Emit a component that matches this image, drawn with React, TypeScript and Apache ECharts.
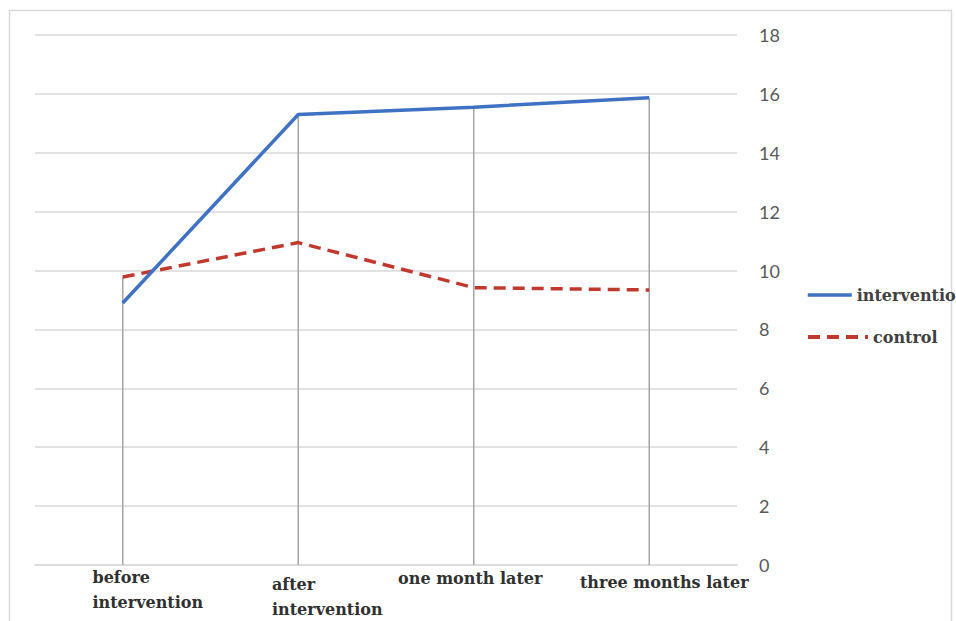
import React, { useEffect, useRef } from "react";
import * as echarts from "echarts";

const categories = ["before\nintervention", "after\nintervention", "one month later", "three months later"];
const intervention = [8.9, 15.3, 15.55, 15.87];
const control = [9.78, 10.95, 9.42, 9.34];
const yTicks = { min: 0, max: 18, interval: 2 };

const labelPad = [
  [0, 0, 0, 50],
  [7, 0, 0, 58],
  [1, 7, 0, 0],
  [5, 0, 0, 30],
];

export default function App() {
  const ref = useRef<HTMLDivElement>(null);
  useEffect(() => {
    document.body.style.margin = "0";
    const chart = echarts.init(ref.current!, null, { renderer: "svg" });
    const high = intervention.map((v, i) => Math.max(v, control[i]));
    const serif = "DejaVu Serif";
    const catFont = { fontFamily: serif, fontSize: 16, fontWeight: "bold" as const, color: "#303030" };
    chart.setOption({
      animation: false,
      backgroundColor: "#ffffff",
      graphic: [
        {
          type: "rect",
          shape: { x: 9.5, y: 10.5, width: 942, height: 620 },
          style: { fill: "none", stroke: "#d9d9d9", lineWidth: 1.5 },
          silent: true,
        },
      ],
      grid: {
        left: 35,
        right: 219,
        top: 35,
        bottom: 56,
        containLabel: false,
        outerBoundsMode: "none",
      },
      legend: [
        {
          data: ["intervention"],
          left: 806,
          top: 287,
          padding: 0,
          itemWidth: 44,
          itemHeight: 14,
          itemGap: 6,
          itemStyle: { opacity: 0 },
          lineStyle: { width: 3.5 },
          textStyle: { ...catFont, color: "#404040" },
        },
        {
          data: ["control"],
          left: 806,
          top: 329,
          padding: 0,
          itemWidth: 60,
          itemHeight: 14,
          itemGap: 8,
          itemStyle: { opacity: 0 },
          lineStyle: { width: 4, type: [12, 7] },
          textStyle: { ...catFont, color: "#404040" },
        },
      ],
      xAxis: {
        type: "category",
        data: categories.map((c, i) => ({
          value: c,
          textStyle: { padding: labelPad[i] },
        })),
        boundaryGap: true,
        axisLine: { show: true, lineStyle: { color: "#d9d9d9", width: 1.5 } },
        axisTick: { show: false },
        axisLabel: {
          interval: 0,
          margin: 0,
          ...catFont,
          lineHeight: 25,
          align: "center",
          formatter: (v: string) =>
            v
              .split("\n")
              .map((s) => "{a|" + s + "}")
              .join("\n"),
          rich: {
            a: {
              ...catFont,
              lineHeight: 25,
              align: "left",
            },
          },
        },
      },
      yAxis: {
        type: "value",
        position: "right",
        min: yTicks.min,
        max: yTicks.max,
        interval: yTicks.interval,
        axisLine: { show: false },
        axisTick: { show: false },
        axisLabel: {
          margin: 22,
          align: "left",
          fontFamily: "Lato",
          fontSize: 18,
          color: "#595959",
        },
        splitLine: { lineStyle: { color: "#d9d9d9", width: 1.5 } },
      },
      series: [
        {
          type: "custom",
          name: "drop",
          silent: true,
          z: 1,
          data: high.map((v, i) => [i, v]),
          renderItem: (params: any, api: any) => {
            const i = api.value(0);
            const v = api.value(1);
            const p0 = api.coord([i, 0]);
            const p1 = api.coord([i, v]);
            return {
              type: "line",
              shape: { x1: p0[0], y1: p0[1], x2: p1[0], y2: p1[1] },
              style: { stroke: "#a6a6a6", lineWidth: 1.5 },
            };
          },
        },
        {
          type: "line",
          name: "intervention",
          data: intervention,
          symbol: "none",
          z: 3,
          lineStyle: { color: "#3f72c2", width: 3.5 },
          itemStyle: { color: "#3f72c2" },
        },
        {
          type: "line",
          name: "control",
          data: control,
          symbol: "none",
          z: 2,
          lineStyle: { color: "#c0392f", width: 3.5, type: [12, 7] },
          itemStyle: { color: "#c0392f" },
        },
      ],
    });
    return () => chart.dispose();
  }, []);
  return <div ref={ref} style={{ width: 956, height: 621, position: "absolute", left: 0, top: 0 }} />;
}
